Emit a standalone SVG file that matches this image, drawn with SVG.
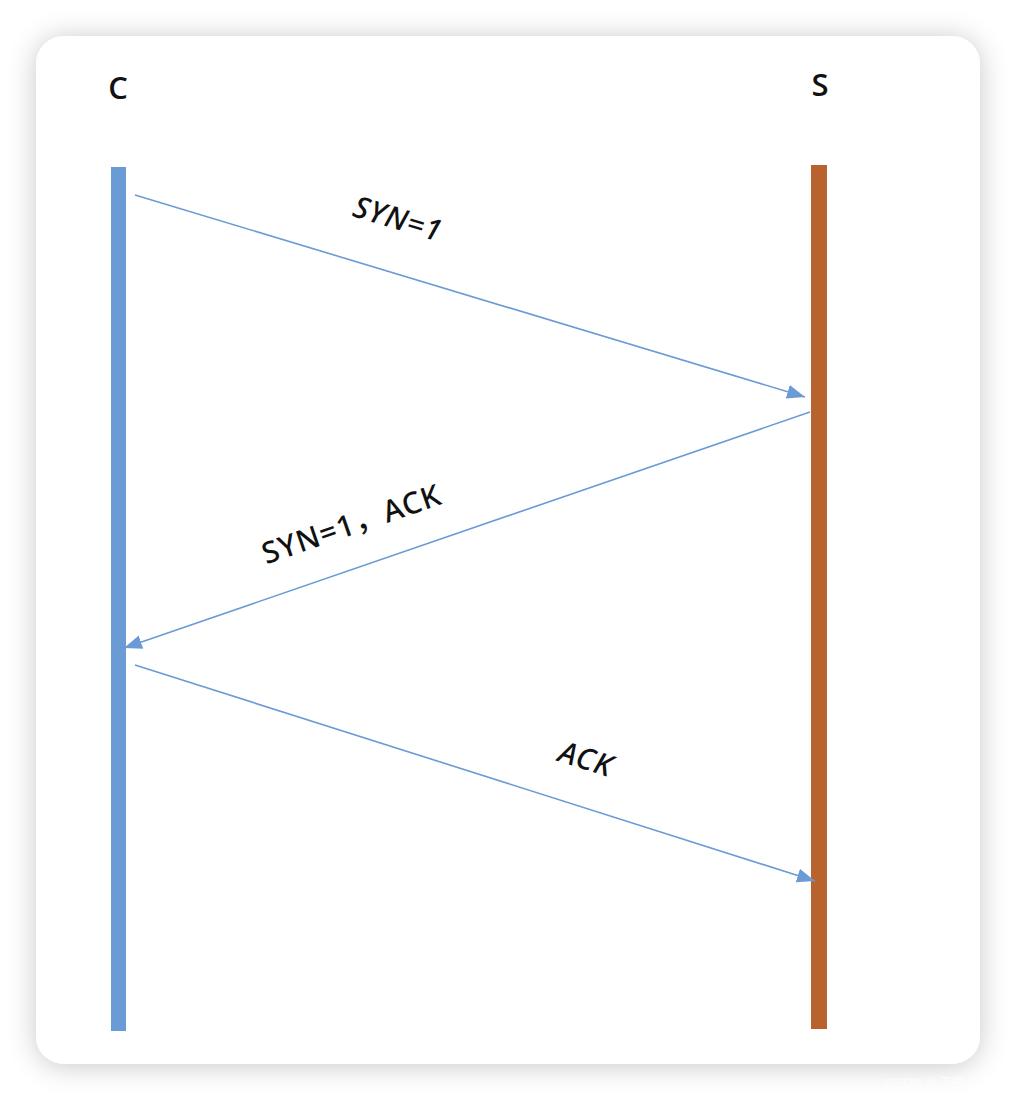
<svg xmlns="http://www.w3.org/2000/svg" width="1016" height="1100" viewBox="0 0 1016 1100">
  <defs>
    <filter id="shadow" x="-10%" y="-10%" width="120%" height="120%">
      <feDropShadow dx="0" dy="2" stdDeviation="14" flood-color="#000" flood-opacity="0.22"/>
    </filter>
    <marker id="arrow" markerUnits="userSpaceOnUse" markerWidth="20" markerHeight="16" refX="18" refY="7" orient="auto">
      <path d="M0,0 L18,7 L0,14 Z" fill="#6a9bd4"/>
    </marker>
    <style>
      .lbl { font-family: "Open Sans", "Noto Sans", Arial, sans-serif; font-weight: 600; fill: #111; }
      .msg { font-family: "Noto Sans", "Noto Sans CJK SC", Arial, sans-serif; font-size: 30px; font-weight: 500; letter-spacing: 1px; fill: #111; }
      .conn { stroke: #6a9bd4; stroke-width: 1.6; fill: none; marker-end: url(#arrow); }
    </style>
  </defs>
  <rect x="0" y="0" width="1016" height="1100" fill="#ffffff"/>
  <rect x="36" y="36" width="944" height="1028" rx="28" ry="28" fill="#ffffff" filter="url(#shadow)"/>

  <g id="client">
    <text class="lbl" x="118" y="99" font-size="31" text-anchor="middle">C</text>
    <rect x="111" y="167" width="15" height="864" fill="#6a9bd4"/>
  </g>
  <g id="server">
    <text class="lbl" x="820" y="96" font-size="31" text-anchor="middle">S</text>
    <rect x="811" y="165" width="16" height="864" fill="#b8622d"/>
  </g>

  <g id="connectors">
    <line class="conn" x1="135" y1="195" x2="805" y2="397"/>
    <line class="conn" x1="810" y1="412" x2="124" y2="648"/>
    <line class="conn" x1="135" y1="665" x2="815" y2="881"/>
  </g>

  <g id="labels">
    <text class="msg" font-style="italic" text-anchor="middle" transform="translate(395,229) rotate(16.7)">SYN=1</text>
    <text class="msg" text-anchor="middle" transform="translate(355,534) rotate(-19)">SYN=1，ACK</text>
    <text class="msg" font-style="italic" text-anchor="middle" transform="translate(583,769) rotate(17.5)">ACK</text>
  </g>

  <text x="978" y="1087" font-family="'Liberation Sans', 'Noto Sans CJK SC', sans-serif" font-size="13" fill="#ffffff" fill-opacity="0.7" text-anchor="end">CSDN @灭霸11</text>
</svg>
